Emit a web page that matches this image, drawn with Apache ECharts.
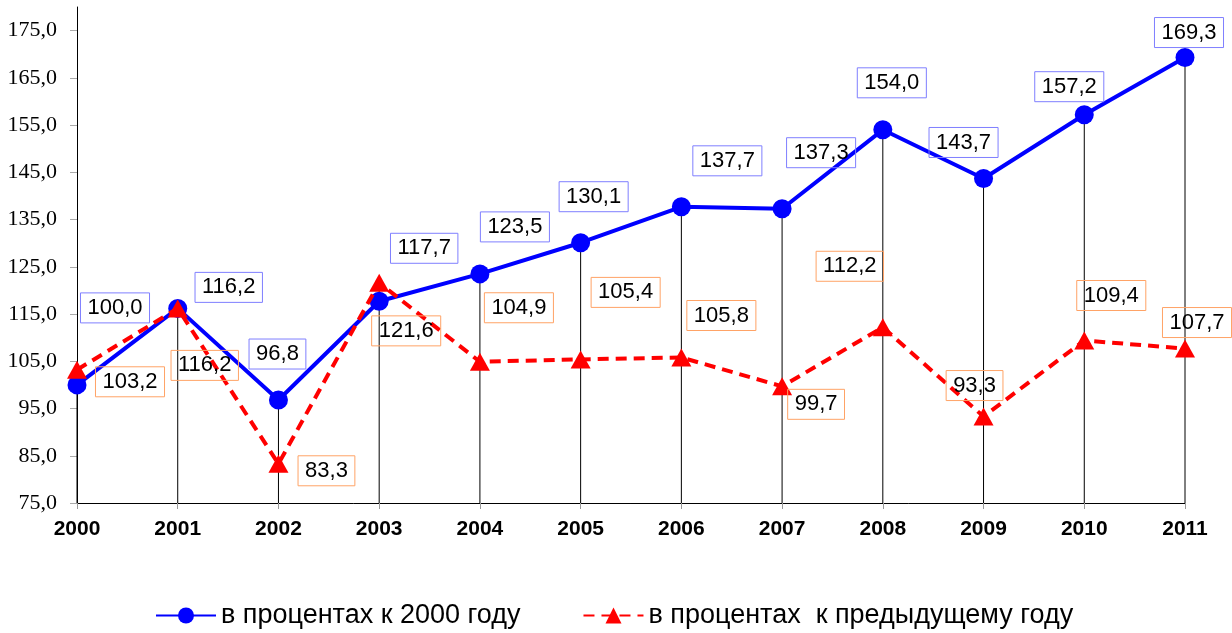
<!DOCTYPE html>
<html>
<head>
<meta charset="utf-8">
<script src="https://cdn.jsdelivr.net/npm/echarts@6/dist/echarts.min.js"></script>
<style>
  html, body { margin: 0; padding: 0; background: #fff; }
  #chart { width: 1232px; height: 633px; }
</style>
</head>
<body>
<div id="chart"></div>
<script>
const years = ["2000", "2001", "2002", "2003", "2004", "2005", "2006", "2007", "2008", "2009", "2010", "2011"];
// в процентах к 2000 году
const toBase = [100.0, 116.2, 96.8, 117.7, 123.5, 130.1, 137.7, 137.3, 154.0, 143.7, 157.2, 169.3];
// в процентах к предыдущему году
const toPrev = [103.2, 116.2, 83.3, 121.6, 104.9, 105.4, 105.8, 99.7, 112.2, 93.3, 109.4, 107.7];
const yTicks = [75, 85, 95, 105, 115, 125, 135, 145, 155, 165, 175];

// где стоят подписи относительно точки (px)
const baseLabelOffset = [[38, -77], [51, -21], [-1, -46], [45, -53], [35, -47], [13, -46],
  [46, -46], [39, -56], [9, -47], [-20, -36], [-15, -28], [4, -25]];
const prevLabelOffset = [[53, 12], [27, 57], [48, 7], [27, 48], [39, -54], [45, -67],
  [40, -42], [34, 18], [-33, -61], [-9, -31], [27, -45], [12, -26]];

const fmt = (v) => v.toFixed(1).replace(".", ",");
const SANS = '"Liberation Sans", Arial, sans-serif';

function labelBox(color) {
  return {
    show: true,
    position: "inside",
    formatter: (p) => fmt(p.value),
    color: "#000",
    fontFamily: SANS,
    fontSize: 22,
    lineHeight: 22,
    padding: [4, 7, 4, 7],
    borderColor: color,
    borderWidth: 1,
  };
}

const chart = echarts.init(document.getElementById("chart"));

chart.setOption({
  animation: false,
  textStyle: { fontFamily: SANS },
  grid: { left: 77, right: 47, top: 7, bottom: 130 },
  legend: {
    data: ["в процентах к 2000 году", "в процентах  к предыдущему году"],
    left: 150,
    top: 597,
    itemWidth: 60,
    itemHeight: 20,
    itemGap: 62,
    textStyle: { fontSize: 27, color: "#000", fontFamily: SANS },
  },
  xAxis: {
    type: "category",
    data: years,
    boundaryGap: false,
    axisLine: { lineStyle: { color: "#000", width: 1 } },
    axisTick: { length: 6, lineStyle: { color: "#999" } },
    axisLabel: { color: "#000", fontWeight: "bold", fontSize: 21, margin: 16, fontFamily: SANS },
    splitLine: { show: false },
  },
  yAxis: {
    type: "value",
    min: 75,
    max: 180,
    interval: 10,
    axisLine: { show: true, lineStyle: { color: "#000", width: 1 } },
    axisTick: { show: true, length: 7, lineStyle: { color: "#aaa" }, customValues: yTicks },
    axisLabel: {
      color: "#000",
      fontFamily: '"Liberation Serif", "Times New Roman", serif',
      fontSize: 22,
      margin: 20,
      customValues: yTicks,
      formatter: (v) => fmt(v),
    },
    splitLine: { show: false },
  },
  series: [
    {
      // линии проекции
      type: "custom",
      z: 1,
      silent: true,
      data: years.map((y, i) => [i, Math.max(toBase[i], toPrev[i])]),
      renderItem: (params, api) => {
        const top = api.coord([api.value(0), api.value(1)]);
        const bottom = api.coord([api.value(0), 75]);
        return {
          type: "line",
          shape: { x1: top[0], y1: top[1], x2: bottom[0], y2: bottom[1] },
          style: { stroke: "#000", lineWidth: 1 },
        };
      },
    },
    {
      name: "в процентах к 2000 году",
      type: "line",
      z: 3,
      data: toBase.map((v, i) => ({ value: v, label: { offset: baseLabelOffset[i] } })),
      symbol: "circle",
      symbolSize: 19,
      itemStyle: { color: "#0000ff" },
      lineStyle: { color: "#0000ff", width: 4 },
      label: labelBox("#7f7fff"),
    },
    {
      name: "в процентах  к предыдущему году",
      type: "line",
      z: 4,
      data: toPrev.map((v, i) => ({ value: v, label: { offset: prevLabelOffset[i] } })),
      symbol: "triangle",
      symbolSize: [20, 18],
      itemStyle: { color: "#ff0000" },
      lineStyle: { color: "#ff0000", width: 4, type: [11, 7] },
      label: labelBox("#ffa366"),
    },
  ],
});
</script>
</body>
</html>
